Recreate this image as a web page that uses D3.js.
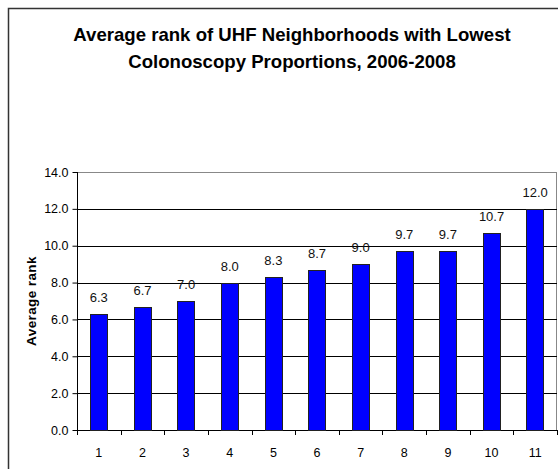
<!DOCTYPE html>
<html>
<head>
<meta charset="utf-8">
<script src="https://cdn.jsdelivr.net/npm/d3@7"></script>
<style>
  body { margin: 0; background: #fff; }
  svg { display: block; font-family: "Liberation Sans", Arial, sans-serif; }
</style>
</head>
<body>
<svg width="558" height="469"></svg>
<script>
"use strict";

// chart data
const categories = ["1", "2", "3", "4", "5", "6", "7", "8", "9", "10", "11"];
const avgRank = [6.3, 6.7, 7.0, 8.0, 8.3, 8.7, 9.0, 9.7, 9.7, 10.7, 12.0];
const yTicks = [0, 2, 4, 6, 8, 10, 12, 14];
const titleLines = ["Average rank of UHF Neighborhoods with Lowest", "Colonoscopy Proportions, 2006-2008"];
const yTitle = "Average rank";

const svg = d3.select("svg"),
    plot = {left: 77, top: 172, right: 557, bottom: 430};

// outer chart border (runs off the right and bottom edge)
svg.append("rect")
    .attr("x", 8.5).attr("y", 8.5)
    .attr("width", 600).attr("height", 500)
    .attr("fill", "none")
    .attr("stroke", "#333")
    .attr("stroke-width", 1.5);

// title
svg.append("g").selectAll("text")
    .data(titleLines)
    .join("text")
    .attr("x", 292)
    .attr("y", (d, i) => 41 + i * 27)
    .attr("text-anchor", "middle")
    .attr("font-size", 18.6)
    .attr("font-weight", "bold")
    .attr("fill", "#000")
    .text(d => d);

const x = d3.scaleBand()
    .domain(categories)
    .range([plot.left, plot.right])
    .paddingInner(0.6)
    .paddingOuter(0.3);

const y = d3.scaleLinear()
    .domain([0, 14])
    .range([plot.bottom, plot.top]);

// plot area frame
svg.append("rect")
    .attr("x", plot.left + 0.5).attr("y", plot.top + 0.5)
    .attr("width", plot.right - plot.left - 1)
    .attr("height", plot.bottom - plot.top)
    .attr("fill", "none")
    .attr("stroke", "#888");

// gridlines
svg.append("g").selectAll("line")
    .data(yTicks.filter(d => d > 0 && d < 14))
    .join("line")
    .attr("x1", plot.left).attr("x2", plot.right)
    .attr("y1", d => Math.round(y(d)) + 0.5)
    .attr("y2", d => Math.round(y(d)) + 0.5)
    .attr("stroke", "#000");

// y axis
const yAxis = svg.append("g")
    .attr("transform", `translate(${plot.left + 0.5},0)`)
    .call(d3.axisLeft(y).tickValues(yTicks).tickFormat(d3.format(".1f")).tickSize(5).tickPadding(4));
yAxis.select(".domain").attr("stroke", "#000").attr("d", `M0,${plot.top}V${plot.bottom}`);
yAxis.selectAll(".tick line").attr("stroke", "#000");
yAxis.selectAll("text")
    .attr("font-family", "Liberation Sans, Arial, sans-serif")
    .attr("font-size", 12.5)
    .attr("fill", "#000");

// x axis
const xAxis = svg.append("g")
    .attr("transform", `translate(0,${plot.bottom + 0.5})`)
    .call(d3.axisBottom(x).tickSize(0).tickPadding(18));
xAxis.select(".domain").attr("stroke", "#000").attr("d", `M${plot.left},0H${plot.right}`);
xAxis.selectAll("text")
    .attr("font-family", "Liberation Sans, Arial, sans-serif")
    .attr("font-size", 12.5)
    .attr("fill", "#000");

// category separator ticks
const step = x.step();
svg.append("g").selectAll("line")
    .data(d3.range(categories.length + 1))
    .join("line")
    .attr("x1", i => Math.round(plot.left + i * step) + 0.5)
    .attr("x2", i => Math.round(plot.left + i * step) + 0.5)
    .attr("y1", plot.bottom)
    .attr("y2", plot.bottom + 5)
    .attr("stroke", "#000");

// bars
svg.append("g").selectAll("rect")
    .data(avgRank)
    .join("rect")
    .attr("x", (d, i) => Math.round(x(categories[i])) + 0.5)
    .attr("y", d => Math.round(y(d)) + 0.5)
    .attr("width", Math.round(x.bandwidth()))
    .attr("height", d => Math.round(y(0)) - Math.round(y(d)))
    .attr("fill", "#0000ff")
    .attr("stroke", "#222");

// value labels
svg.append("g").selectAll("text")
    .data(avgRank)
    .join("text")
    .attr("x", (d, i) => x(categories[i]) + x.bandwidth() / 2)
    .attr("y", d => y(d) - 12)
    .attr("text-anchor", "middle")
    .attr("font-size", 13)
    .attr("fill", "#111")
    .text(d => d3.format(".1f")(d));

// y axis title
svg.append("text")
    .attr("transform", `translate(36,${(plot.top + plot.bottom) / 2}) rotate(-90)`)
    .attr("text-anchor", "middle")
    .attr("font-size", 13.5)
    .attr("font-weight", "bold")
    .attr("letter-spacing", 0.4)
    .attr("fill", "#000")
    .text(yTitle);
</script>
</body>
</html>
